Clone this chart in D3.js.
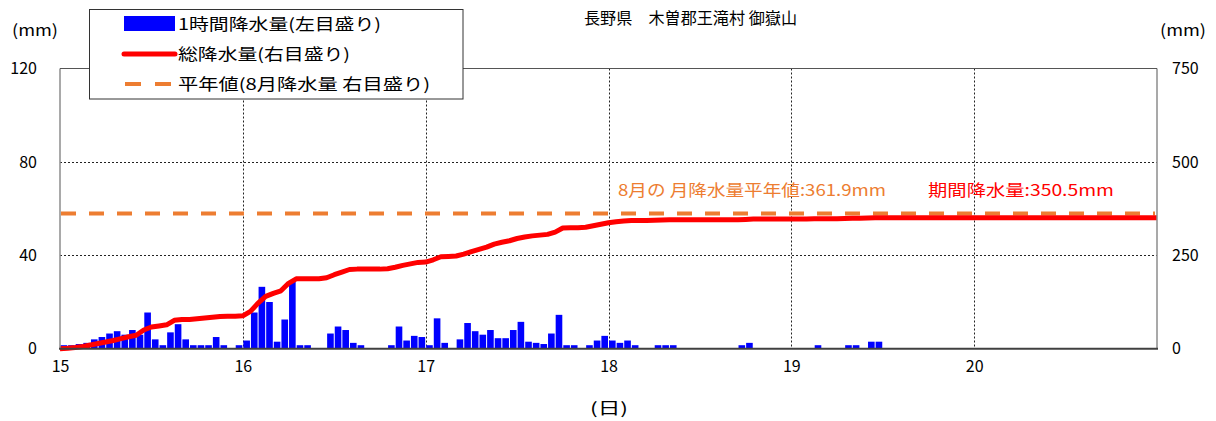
<!DOCTYPE html>
<html><head><meta charset="utf-8">
<script src="https://cdn.jsdelivr.net/npm/d3@7"></script>
<style>
body{margin:0;background:#fff;}
svg{display:block;font-family:"Noto Sans CJK JP","Noto Sans",sans-serif;}
</style>
</head><body>
<svg id="c" width="1216" height="421"></svg>
<script>
// ---- data ----
const title = "長野県　木曽郡王滝村 御嶽山";
const dayLabels = ["15","16","17","18","19","20"];
const leftTicks = [0,40,80,120];
const rightTicks = [0,250,500,750];
const legendLabels = ["1時間降水量(左目盛り)","総降水量(右目盛り)","平年値(8月降水量 右目盛り)"];
// hourly precipitation (mm), 24 values per day
const hourlyDay15 = [1.5,1.5,2,2.5,4,5,6.5,7.5,6,8,6,15.5,4,1.5,7,10.5,4,1.5,1.5,1.5,5,1.5,0,1.5];
const hourlyDay16 = [3.5,15.5,26.5,20,3,12.5,29,1.5,1.5,0,0,6.5,9.5,8,2.5,1.5,0,0,0,1.5,9.5,3.5,5.5,5];
const hourlyDay17 = [1.5,13,2.5,0,4,11,7.5,6,8,4.5,4.5,8,11.5,3,2.5,2,6.5,14.5,1.5,1.5,0,1.5,3.5,5.5];
const hourlyDay18 = [3.5,2.5,3.5,1.5,0,0,1.5,1.5,1.5,0,0,0,0,0,0,0,0,1.5,2.5,0,0,0,0,0];
const hourlyDay19 = [0,0,0,1.5,0,0,0,1.5,1.5,0,3,3,0,0,0,0,0,0,0,0,0,0,0,0];
const hourlyDay20 = [0,0,0,0,0,0,0,0,0,0,0,0,0,0,0,0,0,0,0,0,0,0,0,0];
// cumulative total (mm) at each hour boundary
const totalStart = [0];
const totalDay15 = [1,3,6,10,14,18,22,27,32,36,50,58,61,64,76,78,78,80,82,84,86,87,87,88];
const totalDay16 = [100,122,140,148,155,175,187,187,187,187,190,198,205,212,213,213,213,213,214,218,223,227,231,232];
const totalDay17 = [238,246,247,248,253,260,266,272,280,285,289,295,299,302,304,306,312,323,324,324,325,329,333,337];
const totalDay18 = [340,342,343,343,343,344,344.5,345,345,345,345,345,345,345,345,345,345,346,347,347,347,347,347,347];
const totalDay19 = [347,347,348,348,348,348,348.5,349,349,350,350.5,350.5,350.5,350.5,350.5,350.5,350.5,350.5,350.5,350.5,350.5,350.5,350.5,350.5];
const totalDay20 = [350.5,350.5,350.5,350.5,350.5,350.5,350.5,350.5,350.5,350.5,350.5,350.5,350.5,350.5,350.5,350.5,350.5,350.5,350.5,350.5,350.5,350.5,350.5,350.5];
const normalValue = 361.9;
const periodTotal = 350.5;

const hourly = [].concat(hourlyDay15,hourlyDay16,hourlyDay17,hourlyDay18,hourlyDay19,hourlyDay20);
const totals = [].concat(totalStart,totalDay15,totalDay16,totalDay17,totalDay18,totalDay19,totalDay20);

// ---- layout ----
const L = 60, R = 1157, T = 68.5, B = 348.7;
const svg = d3.select("#c");
const x = d3.scaleLinear().domain([0, hourly.length]).range([L, R]);
const yL = d3.scaleLinear().domain([0,120]).range([B, T]);
const yR = d3.scaleLinear().domain([0,750]).range([B, T]);
const xDay = d3.scaleLinear().domain([0, dayLabels.length]).range([L, R]);

// gridlines
const grid = svg.append("g").attr("stroke","#222").attr("stroke-width",1).attr("stroke-dasharray","2,2");
d3.range(1, dayLabels.length).forEach(d => {
  grid.append("line").attr("x1", Math.round(xDay(d))+0.5).attr("x2", Math.round(xDay(d))+0.5)
    .attr("y1", T).attr("y2", B);
});
leftTicks.filter(v => v>0 && v<120).forEach(v => {
  grid.append("line").attr("x1", L).attr("x2", R)
    .attr("y1", Math.round(yL(v))+0.5).attr("y2", Math.round(yL(v))+0.5);
});

// bars
svg.append("g").selectAll("rect").data(hourly).join("rect")
  .attr("x", (d,i) => x(i)+0.5)
  .attr("width", (d,i) => x(i+1)-x(i)-1)
  .attr("y", d => yL(d))
  .attr("height", d => B - yL(d))
  .attr("fill", "#0000FF");

// normal (average) dashed line
svg.append("line")
  .attr("x1", L+1).attr("x2", R-2)
  .attr("y1", yR(normalValue)).attr("y2", yR(normalValue))
  .attr("stroke","#ED7D31").attr("stroke-width",4).attr("stroke-dasharray","15,13");

// cumulative line
svg.append("path").datum(totals)
  .attr("d", d3.line().x((d,i) => x(i)).y(d => yR(d)))
  .attr("fill","none").attr("stroke","#FF0000").attr("stroke-width",5)
  .attr("stroke-linejoin","round").attr("stroke-linecap","butt");

// frame
svg.append("line").attr("x1",L).attr("x2",L).attr("y1",T).attr("y2",B).attr("stroke","#8c8c8c").attr("stroke-width",1.5);
svg.append("line").attr("x1",R).attr("x2",R).attr("y1",T).attr("y2",B).attr("stroke","#8c8c8c").attr("stroke-width",1.5);
svg.append("line").attr("x1",L).attr("x2",R).attr("y1",T).attr("y2",T).attr("stroke","#555").attr("stroke-width",1);
svg.append("line").attr("x1",L-1).attr("x2",R+1).attr("y1",B).attr("y2",B).attr("stroke","#404040").attr("stroke-width",2);

// axes
const axL = svg.append("g").attr("transform",`translate(${L},0)`)
  .call(d3.axisLeft(yL).tickValues(leftTicks).tickSize(0).tickPadding(23).tickFormat(d3.format("d")));
const axR = svg.append("g").attr("transform",`translate(${R},0)`)
  .call(d3.axisRight(yR).tickValues(rightTicks).tickSize(0).tickPadding(15).tickFormat(d3.format("d")));
const axB = svg.append("g").attr("transform",`translate(0,${B})`)
  .call(d3.axisBottom(xDay).tickValues(d3.range(dayLabels.length)).tickSize(0).tickPadding(12).tickFormat(i => dayLabels[i]));
[axL,axR,axB].forEach(a => {
  a.select(".domain").remove();
  a.selectAll("text").attr("font-size",16).attr("fill","#000")
    .attr("font-family","'Noto Sans CJK JP',sans-serif");
});

// unit labels
svg.append("text").attr("x",12).attr("y",36).attr("font-size",16)
  .attr("textLength",46).attr("lengthAdjust","spacingAndGlyphs").text("(mm)");
svg.append("text").attr("x",1160).attr("y",36).attr("font-size",16)
  .attr("textLength",46).attr("lengthAdjust","spacingAndGlyphs").text("(mm)");
svg.append("text").attr("x",590).attr("y",414).attr("font-size",16)
  .attr("textLength",38).attr("lengthAdjust","spacingAndGlyphs").text("(日)");

// title
svg.append("text").attr("x",584).attr("y",24).attr("font-size",16)
  .attr("textLength",213).attr("lengthAdjust","spacingAndGlyphs").text(title);

// annotations
svg.append("text").attr("x",618).attr("y",196).attr("font-size",16).attr("fill","#ED7D31")
  .attr("textLength",268).attr("lengthAdjust","spacingAndGlyphs")
  .text("8月の 月降水量平年値:" + normalValue.toFixed(1) + "mm");
svg.append("text").attr("x",928).attr("y",196).attr("font-size",16).attr("fill","#FF0000")
  .attr("textLength",186).attr("lengthAdjust","spacingAndGlyphs")
  .text("期間降水量:" + periodTotal.toFixed(1) + "mm");

// legend
const lg = svg.append("g");
lg.append("rect").attr("x",89.5).attr("y",9.5).attr("width",373.5).attr("height",89.5)
  .attr("fill","#fff").attr("stroke","#333").attr("stroke-width",1);
lg.append("rect").attr("x",124).attr("y",16).attr("width",51).attr("height",15).attr("fill","#0000FF");
lg.append("line").attr("x1",124).attr("x2",175).attr("y1",54).attr("y2",54)
  .attr("stroke","#FF0000").attr("stroke-width",5).attr("stroke-linecap","round");
lg.append("line").attr("x1",125).attr("x2",175).attr("y1",84).attr("y2",84)
  .attr("stroke","#ED7D31").attr("stroke-width",4).attr("stroke-dasharray","16,14");
const lgLens = [203,172,252];
const lgY = [30,60,90];
legendLabels.forEach((t,i) => {
  lg.append("text").attr("x",178).attr("y",lgY[i]).attr("font-size",16).attr("fill","#000")
    .attr("textLength",lgLens[i]).attr("lengthAdjust","spacingAndGlyphs").text(t);
});
</script>
</body></html>
